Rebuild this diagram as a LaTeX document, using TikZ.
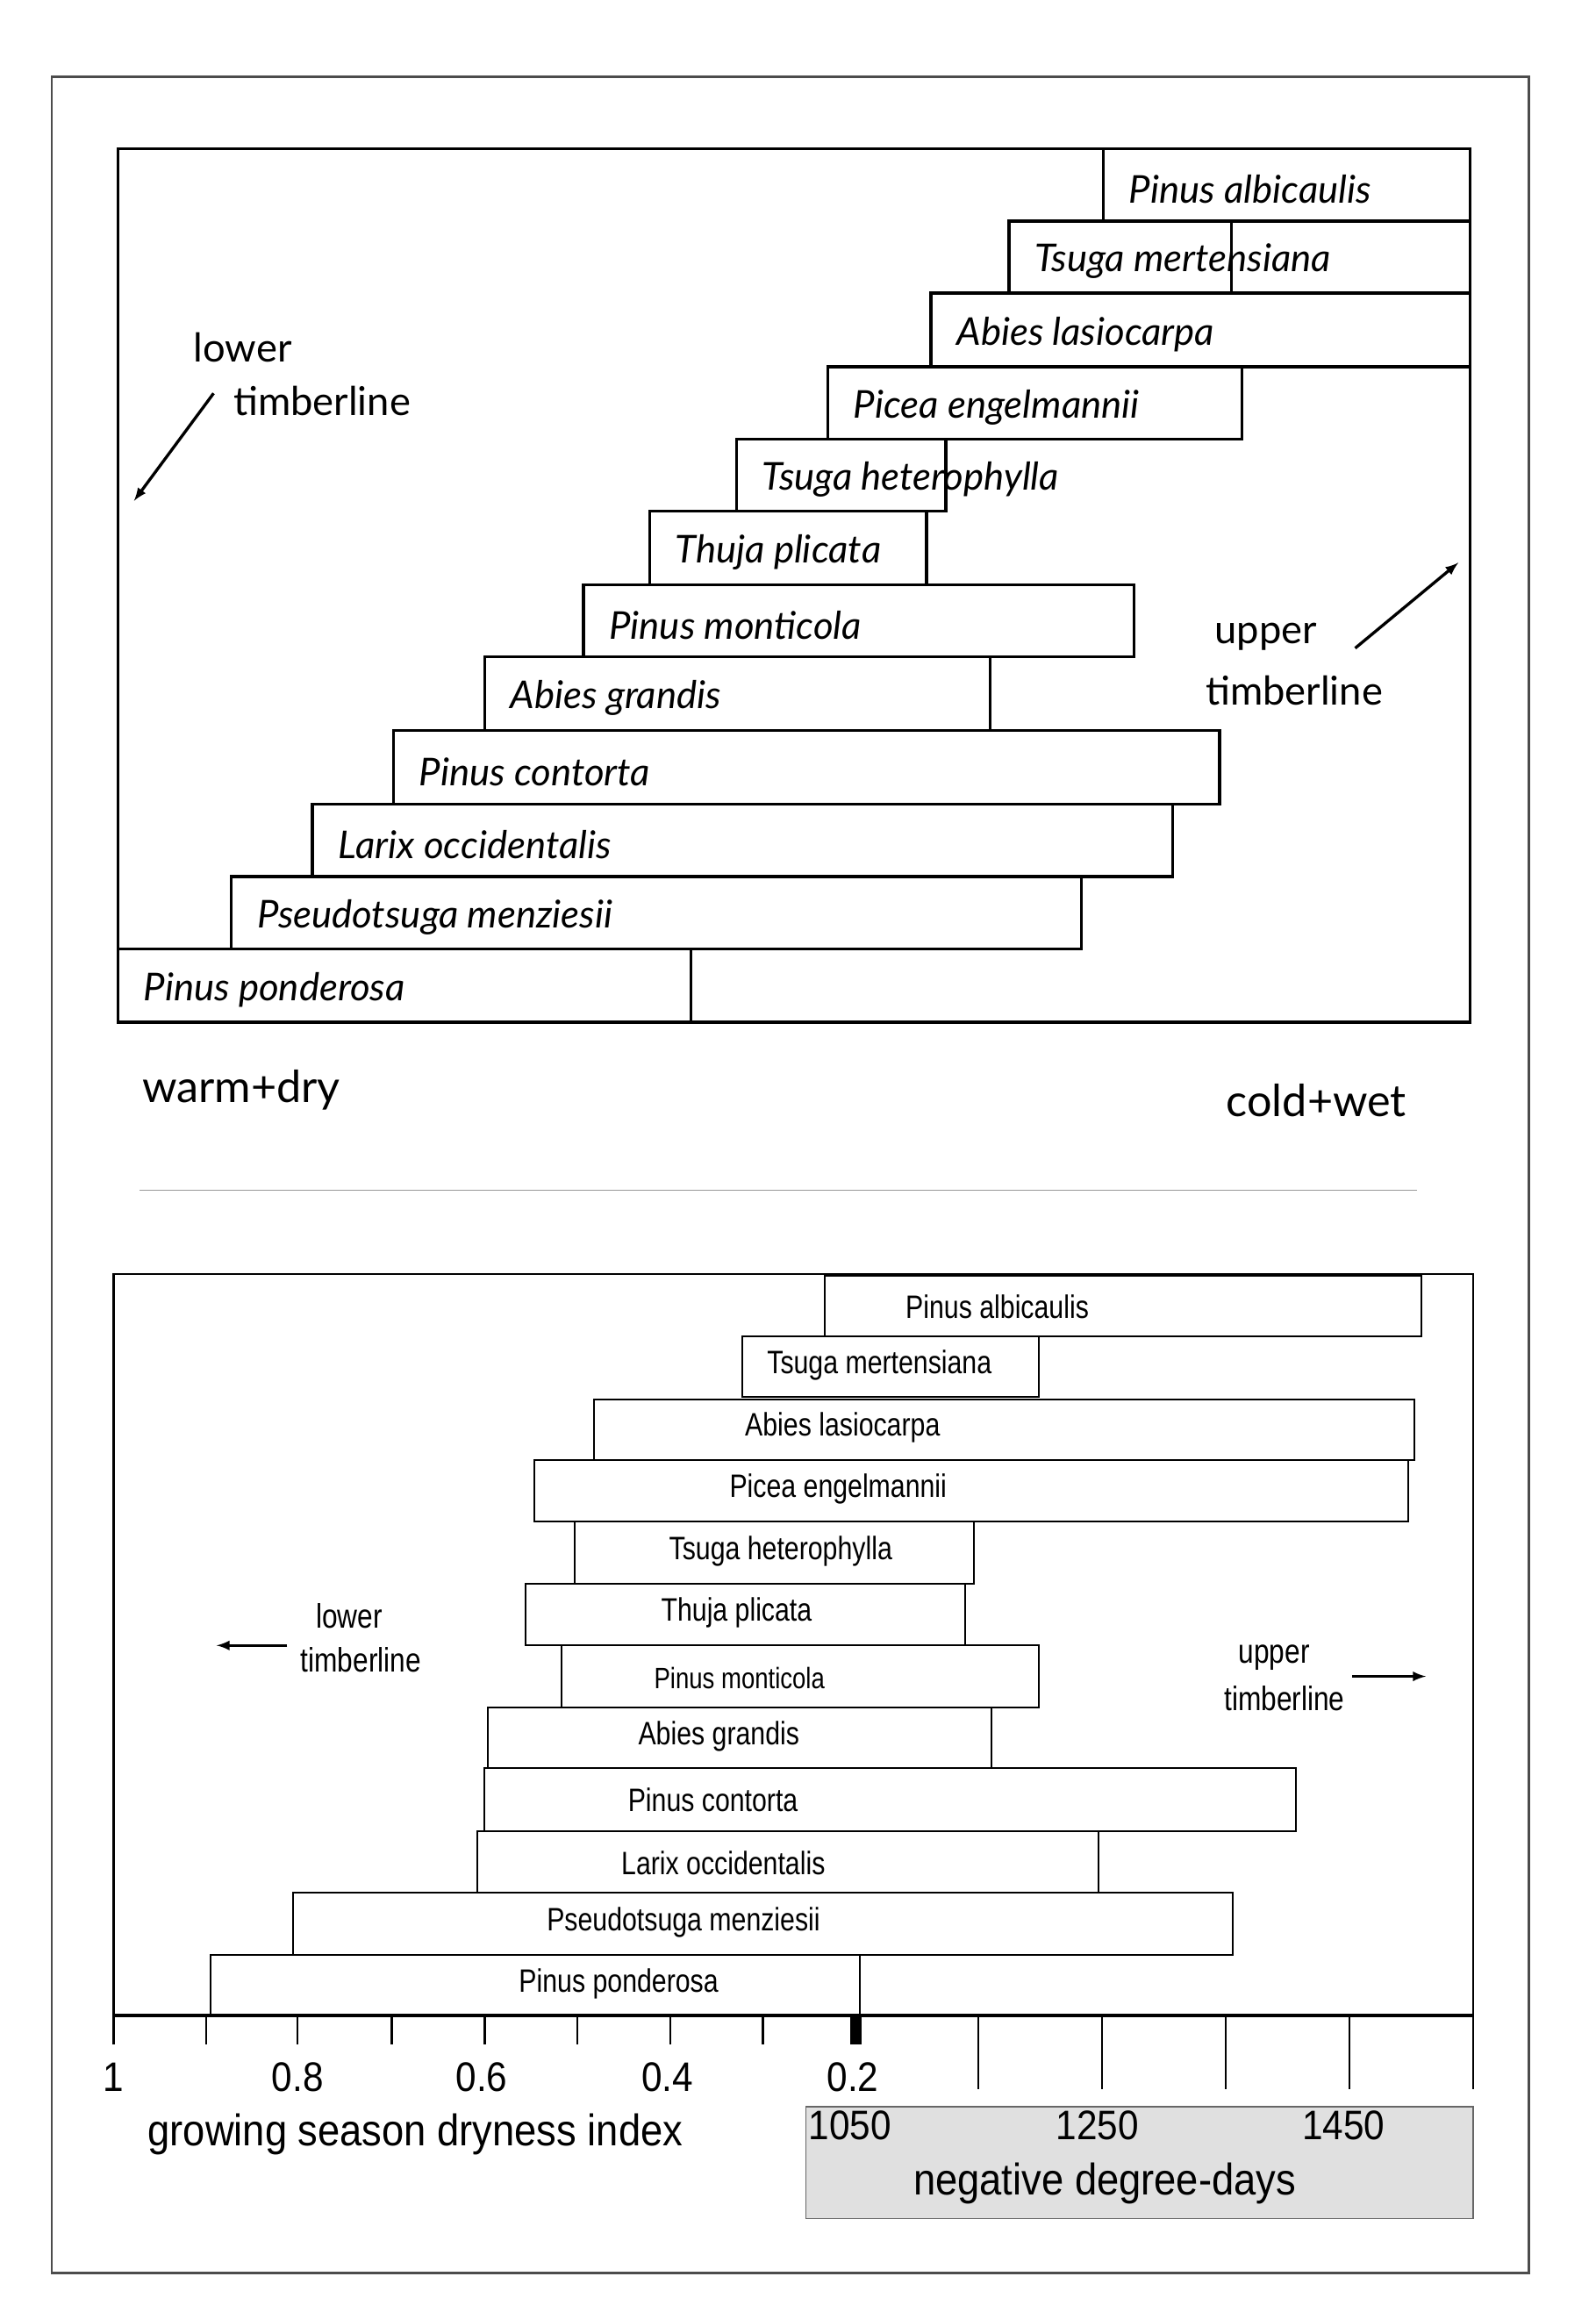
\documentclass[tikz,border=0pt]{standalone}
\usepackage{fontspec}
\setmainfont{Lato}
\newfontfamily\nar[FakeStretch=0.82]{Liberation Sans}
\newfontfamily\narb[FakeStretch=0.9]{Liberation Sans}
\begin{document}
\begin{tikzpicture}[x=1pt,y=-1pt,
  tb/.style={draw=black,line width=2pt},
  tl/.style={anchor=west,font=\fontsize{26}{28}\selectfont\itshape},
  bb/.style={draw=black,line width=1.2pt},
  bl/.style={font=\nar\fontsize{22}{24}\selectfont},
  lab/.style={font=\fontsize{27}{30}\selectfont,anchor=west},
  blab/.style={font=\nar\fontsize{23}{26}\selectfont},
  ax/.style={font=\narb\fontsize{28}{30}\selectfont}]
\useasboundingbox (0,0) rectangle (1083.4,1560);
\draw[draw=black!70,line width=1.5pt] (35,52) rectangle (1038,1543);
% top panel
\draw[tb] (80,101) rectangle (998,694);
\foreach \a/\b/\c/\d/\t [count=\i] in {
 749/101/998/150/Pinus albicaulis,
 685/150/998/199/Tsuga mertensiana,
 632/199/998/249/Abies lasiocarpa,
 562/249/843/298/Picea engelmannii,
 500/298/642/347/Tsuga heterophylla,
 441/347/629/397/Thuja plicata,
 396/397/770/446/Pinus monticola,
 329/446/672/496/Abies grandis,
 267/496/828/546/Pinus contorta,
 212/546/796/595/Larix occidentalis,
 157/595/734/644/Pseudotsuga menziesii,
 80/644/469/694/Pinus ponderosa}{
 \draw[tb] (\a,\b) rectangle (\c,\d);
 \node[tl] (t\i) at (\a+14,{(\b+\d)/2+3}) {\t};
}
\draw[tb] (836,150) -- (836,199);
\node[lab] (lt1) at (128,236) {lower};
\node[lab] (lt2) at (155,272) {timberline};
\coordinate (la1) at (145,267); \coordinate (la2) at (91,340);
\draw[line width=2pt,-latex] (la1) -- (la2);
\node[lab] (ut1) at (821,432) {upper};
\node[lab] (ut2) at (815,469) {timberline};
\coordinate (ua1) at (920,440); \coordinate (ua2) at (990,382);
\draw[line width=2pt,-latex] (ua1) -- (ua2);
\node[lab,font=\fontsize{30}{32}\selectfont] (wd) at (93,740) {warm+dry};
\node[lab,font=\fontsize{30}{32}\selectfont] (cw) at (829,747) {cold+wet};
\draw[black!40,line width=1pt] (95,808) -- (962,808);
% bottom panel
\draw[line width=1.5pt] (77,1368) -- (77,865) -- (1000,865) -- (1000,1418);
\draw[line width=2.5pt] (77,1368) -- (1000,1368);
\foreach \a/\b/\c/\d/\t [count=\i] in {
 560/866/965/907/Pinus albicaulis,
 504/907/705/948/Tsuga mertensiana,
 403/950/960/991/Abies lasiocarpa,
 363/991/956/1033/Picea engelmannii,
 390/1033/661/1075/Tsuga heterophylla,
 357/1075/655/1117/Thuja plicata,
 381/1117/705/1159/Pinus monticola,
 331/1159/673/1200/Abies grandis,
 329/1200/880/1243/Pinus contorta,
 324/1243/746/1285/Larix occidentalis,
 199/1285/837/1327/Pseudotsuga menziesii,
 143/1327/584/1368/Pinus ponderosa}{
 \draw[bb] (\a,\b) rectangle (\c,\d);
}
\node[bl] (b1) at (677,887) {Pinus albicaulis};
\node[bl] (b2) at (597,927) {Tsuga mertensiana};
\node[bl] (b3) at (572,969) {Abies lasiocarpa};
\node[bl] (b4) at (569,1011) {Picea engelmannii};
\node[bl] (b5) at (530,1053) {Tsuga heterophylla};
\node[bl] (b6) at (500,1095) {Thuja plicata};
\node[bl,font=\nar\fontsize{20}{22}\selectfont] (b7) at (502,1139) {Pinus monticola};
\node[bl] (b8) at (488,1179) {Abies grandis};
\node[bl] (b9) at (484,1222) {Pinus contorta};
\node[bl] (b10) at (491,1265) {Larix occidentalis};
\node[bl] (b11) at (464,1305) {Pseudotsuga menziesii};
\node[bl] (b12) at (420,1347) {Pinus ponderosa};
\node[blab] (l1) at (237,1097) {lower};
\node[blab] (l2) at (245,1127) {timberline};
\coordinate (lb1) at (195,1117); \coordinate (lb2) at (147,1117);
\draw[line width=2pt,-latex] (lb1) -- (lb2);
\node[blab] (u1) at (865,1125) {upper};
\node[blab] (u2) at (872,1153) {timberline};
\coordinate (ub1) at (918,1138); \coordinate (ub2) at (968,1138);
\draw[line width=2pt,-latex] (ub1) -- (ub2);
% axes
\foreach \x in {77,140,202,266,329,392,455,518}
  \draw[line width=1.5pt] (\x,1368) -- (\x,1388);
\fill (577,1368) rectangle (585,1388);
\foreach \x in {664,748,832,916}
  \draw[line width=1.5pt] (\x,1368) -- (\x,1418);
\foreach \x/\t in {77/1,202/0.8,327/0.6,453/0.4,579/0.2}
  \node[ax] at (\x,1410) {\t};
\node[ax,font=\narb\fontsize{30}{32}\selectfont] (gs) at (282,1449) {growing season dryness index};
\draw[black!60,fill=black!12,line width=1pt] (547,1430) rectangle (1000,1506);
\foreach \x/\t in {577/1050,745/1250,912/1450}
  \node[ax] at (\x,1443) {\t};
\node[ax,font=\narb\fontsize{30}{32}\selectfont] (nd) at (750,1482) {negative degree-days};
\end{tikzpicture}
\end{document}
